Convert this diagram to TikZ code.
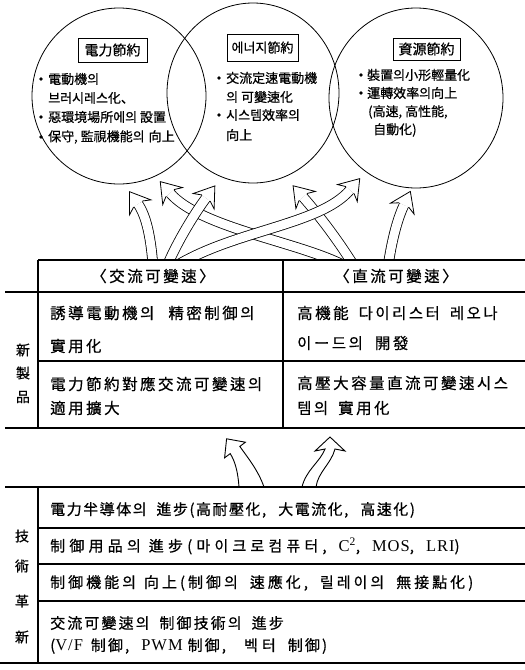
\documentclass[tikz,border=0pt]{standalone}
\usepackage{fontspec}
\setmainfont{Noto Sans CJK KR}[FakeBold=0.6]
\newfontfamily\tbl[LetterSpace=16,FakeBold=0.6]{Noto Sans CJK KR}
\newfontfamily\tblb[LetterSpace=10,FakeBold=0.6]{Noto Sans CJK KR}
\newfontfamily\tblm[LetterSpace=14,FakeBold=0.6]{Noto Sans CJK KR}
\newfontfamily\tblr[LetterSpace=20,FakeBold=0.6]{Noto Sans CJK KR}
\newfontfamily\tblw[LetterSpace=28,FakeBold=0.6]{Noto Sans CJK KR}
\newfontfamily\lat[LetterSpace=6]{Liberation Serif}
\newcommand\latb[1]{{\lat\fontsize{16.5}{18}\selectfont #1}}
\usetikzlibrary{decorations.markings,shapes.geometric}
\newcommand\tophead{%
  \fill[white] (0,5.25) -- (-4,13) -- (15,0) -- (-4,-13) -- (0,-5.25) -- cycle;
  \draw[line width=0.8pt, line join=miter] (0,5.25) -- (-4,13) -- (15,0) -- (-4,-13) -- (0,-5.25);}
\newcommand\harrow[4]{%
  \draw[line width=10.5pt] #1 .. controls #2 and #3 .. #4;
  \draw[white, line width=8.9pt] #1 .. controls #2 and #3 .. #4;
  \path[decorate, decoration={markings, mark=at position 1 with {\tophead}}] #1 .. controls #2 and #3 .. #4;}
\begin{document}
\begin{tikzpicture}[x=1pt,y=-1pt,
  circ/.style={draw, ellipse, line width=0.8pt, inner sep=0pt},
  tline/.style={line width=1.1pt},
  lab/.style={draw, line width=0.8pt, inner sep=0pt, font={\fontsize{14}{16}\selectfont}},
  ctext/.style={anchor=west, inner sep=0pt, font={\fontsize{13}{15}\selectfont}},
  bul/.style={circle, fill, inner sep=0pt, minimum size=3.6pt},
  ttext/.style={anchor=west, inner sep=0pt, font={\tbl\fontsize{15.5}{18}\selectfont}},
  thead/.style={inner sep=0pt, font={\tbl\fontsize{15.5}{18}\selectfont}},
  btext/.style={anchor=west, inner sep=0pt, font={\fontsize{15}{18}\selectfont}},
  side/.style={inner sep=0pt, font={\fontsize{14}{16}\selectfont}},
  marrow/.style={line width=0.9pt, line join=miter},
]
\useasboundingbox (0,0) rectangle (525,670);

% circles
\node[circ, minimum width=174pt, minimum height=176pt] (cL) at (119,96) {};
\node[circ, minimum width=172pt, minimum height=180pt] (cM) at (253,93) {};
\node[circ, minimum width=174pt, minimum height=180pt] (cR) at (416,98) {};

% left circle
\node[lab, minimum width=69pt, minimum height=24pt] (lbL) at (112.5,50) {電力節約};
\node[bul] (bL1) at (41,79) {};
\node[ctext] (tL1) at (48,79) {電動機의};
\node[ctext] (tL2) at (48,98) {브러시레스化、};
\node[bul] (bL3) at (41,117) {};
\node[ctext] (tL3) at (48,117) {惡環境場所에의 設置};
\node[bul] (bL4) at (41,137) {};
\node[ctext] (tL4) at (48,137) {保守, 監視機能의\hspace{4pt}向上};

% middle circle
\node[lab, font={\fontsize{13}{15}\selectfont}, minimum width=71pt, minimum height=27pt] (lbM) at (262.5,47.5) {에너지節約};
\node[bul] (bM1) at (219,78) {};
\node[ctext] (tM1) at (226,78) {交流定速電動機};
\node[ctext] (tM2) at (226,97) {의 可變速化};
\node[bul] (bM3) at (219,115) {};
\node[ctext] (tM3) at (226,115) {시스템效率의};
\node[ctext] (tM4) at (226,135) {向上};

% right circle
\node[lab, minimum width=67pt, minimum height=22pt] (lbR) at (426.5,49) {資源節約};
\node[bul] (bR1) at (361,75) {};
\node[ctext] (tR1) at (367,75) {裝置의小形輕量化};
\node[bul] (bR2) at (361,93) {};
\node[ctext] (tR2) at (367,93) {運轉效率의向上};
\node[ctext] (tR3) at (368,112) {(高速, 高性能,};
\node[ctext] (tR4) at (373,130) {自動化)};

% top arrows
\coordinate (Ft) at (345,266); \coordinate (Fh) at (170,193);
\coordinate (Dt) at (354,266); \coordinate (Dh) at (303,197);
\coordinate (Et) at (388,266); \coordinate (Eh) at (404,205);
\coordinate (At) at (153,266); \coordinate (Ah) at (138,204);
\coordinate (Bt) at (167,266); \coordinate (Bh) at (206,198);
\coordinate (Ct) at (176,266); \coordinate (Ch) at (350,190);
\begin{scope}
\clip (0,0) rectangle (525,259.5);
\harrow{(Ft)}{(300,242)}{(200,228)}{(Fh)}
\harrow{(Dt)}{(338,240)}{(318,214)}{(Dh)}
\harrow{(Et)}{(392,240)}{(397,220)}{(Eh)}
\harrow{(At)}{(151,240)}{(147,217)}{(Ah)}
\harrow{(Bt)}{(178,240)}{(195,213)}{(Bh)}
\harrow{(Ct)}{(235,230)}{(320,225)}{(Ch)}
\end{scope}

% upper table
\draw[tline] (38,260) -- (525,260);
\draw[tline] (5,292) -- (525,292);
\draw[tline] (38,361) -- (525,361);
\draw[tline] (5,428) -- (525,428);
\draw[tline] (38,260) -- (38,428);
\draw[tline] (283,260) -- (283,428);
\node[thead] (hAC) at (153,276) {〈交流可變速〉};
\node[thead] (hDC) at (396,276) {〈直流可變速〉};
\node[ttext] (a1) at (50,313) {誘導電動機의\hspace{14pt}精密制御의};
\node[ttext] (a2) at (50,346) {實用化};
\node[ttext] (a3) at (50,384) {電力節約對應交流可變速의};
\node[ttext] (a4) at (50,408) {適用擴大};
\node[ttext] (d1) at (297,313) {高機能\hspace{10pt}다이리스터\hspace{10pt}레오나};
\node[ttext] (d2) at (297,343) {이ー드의\hspace{12pt}開發};
\node[ttext] (d3) at (297,383) {高壓大容量直流可變速시스};
\node[ttext] (d4) at (297,408) {템의\hspace{10pt}實用化};
\node[side] (s1) at (23,350) {新};
\node[side] (s2) at (23,373) {製};
\node[side] (s3) at (23,397) {品};

% middle arrows
\begin{scope}
\clip (0,430) rectangle (525,486.4);
\fill[white] (239,487) .. controls (238,472) and (235,461) .. (230.2,453.6) -- (224.6,457.8) -- (226.6,438.8) -- (245.4,442.2) -- (239.8,446.4) .. controls (248,458) and (258,470) .. (264,487) -- cycle;
\draw[marrow] (239,487) .. controls (238,472) and (235,461) .. (230.2,453.6) -- (224.6,457.8) -- (226.6,438.8) -- (245.4,442.2) -- (239.8,446.4) .. controls (248,458) and (258,470) .. (264,487);
\fill[white] (302,487) .. controls (306,470) and (320,462) .. (325,449) -- (315,451) -- (330,437) -- (345,451) -- (335,449) .. controls (331,464) and (318,472) .. (316,487) -- cycle;
\draw[marrow] (302,487) .. controls (306,470) and (320,462) .. (325,449) -- (315,451) -- (330,437) -- (345,451) -- (335,449) .. controls (331,464) and (318,472) .. (316,487);
\end{scope}

% lower table
\draw[tline] (5,487) -- (525,487);
\draw[tline] (38,487) -- (38,663);
\draw[tline] (38,528) -- (525,528);
\draw[tline] (38,564) -- (525,564);
\draw[tline] (38,601) -- (525,601);
\draw[line width=2pt] (0,663) -- (525,663);
\node[btext, font={\tblb\fontsize{15}{18}\selectfont}] (r1) at (50,510) {電力半導体의\hspace{10pt}進步(高耐壓化,\hspace{12pt}大電流化,\hspace{12pt}高速化)};
\node[btext, font={\tblw\fontsize{15}{18}\selectfont}] (r2) at (50,546) {制御用品의\hspace{8pt}進步(마이크로컴퓨터,\hspace{12pt}\latb{C\textsuperscript{2}},\hspace{12pt}\latb{MOS},\hspace{12pt}\latb{LRI})};
\node[btext, font={\tblr\fontsize{15}{18}\selectfont}] (r3) at (50,583) {制御機能의\hspace{8pt}向上(制御의\hspace{12pt}速應化,\hspace{12pt}릴레이의\hspace{12pt}無接點化)};
\node[btext, font={\tblm\fontsize{15}{18}\selectfont}] (r4) at (50,623) {交流可變速의\hspace{10pt}制御技術의\hspace{10pt}進步};
\node[btext, font={\tblm\fontsize{15}{18}\selectfont}] (r5) at (50,646) {(\latb{V/F}\hspace{8pt}制御,\hspace{12pt}\latb{PWM}\hspace{5pt}制御,\hspace{18pt}{\tblw 벡터}\hspace{12pt}制御)};
\node[side] (s4) at (22,536) {技};
\node[side] (s5) at (22,566) {術};
\node[side] (s6) at (22,601) {革};
\node[side] (s7) at (22,637) {新};
\end{tikzpicture}
\end{document}
